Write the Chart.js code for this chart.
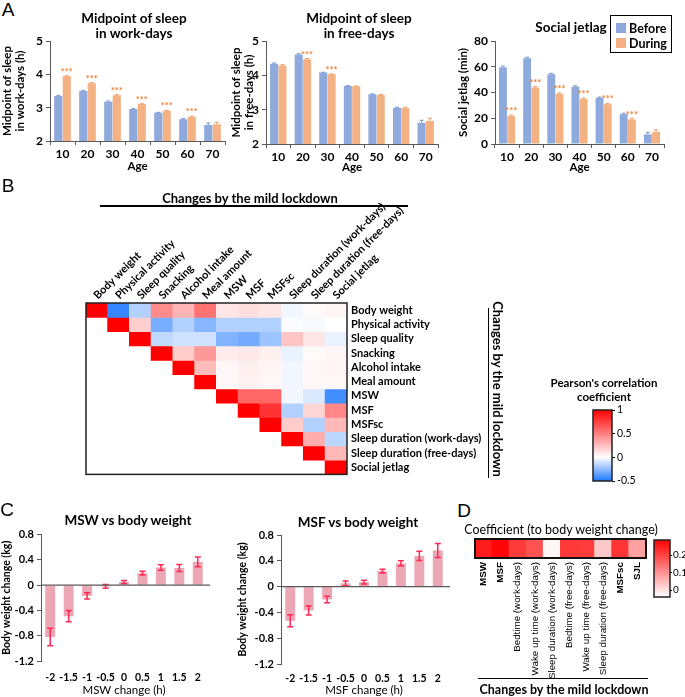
<!DOCTYPE html>
<html><head><meta charset="utf-8">
<script src="https://cdn.jsdelivr.net/npm/chart.js@4.4.1/dist/chart.umd.min.js"></script>
<style>
html,body{margin:0;padding:0;background:#fff;}
body{width:685px;height:697px;position:relative;overflow:hidden;font-family:Lato,"Open Sans",sans-serif;color:#000;}
canvas{position:absolute;}
.t{position:absolute;white-space:nowrap;transform:translate(-50%,-50%);line-height:1.2;text-align:center;}
.ln{position:absolute;background:#000;}
.lg{position:absolute;border:1px solid #000;background:#fff;box-sizing:border-box;}
.sw{position:absolute;width:10px;height:10px;}
</style></head><body>
<script>
// ================= DATA =================
// Panel A
const ages = ['10','20','30','40','50','60','70'];
const seriesNames = ['Before','During'];
const sleepTicks = [2,3,4,5];
const sjlTicks = [0,20,40,60,80];
const mswBefore = [3.35,3.50,3.18,2.96,2.85,2.65,2.48];
const mswDuring = [3.94,3.73,3.37,3.11,2.91,2.72,2.50];
const mswBeforeErr = [0.02,0.02,0.02,0.01,0.01,0.02,0.06];
const mswDuringErr = [0.02,0.02,0.02,0.01,0.01,0.02,0.06];
const mswSig = [true,true,true,true,true,true,false];
const msfBefore = [4.34,4.61,4.08,3.69,3.45,3.05,2.62];
const msfDuring = [4.29,4.47,4.03,3.68,3.43,3.05,2.67];
const msfBeforeErr = [0.02,0.02,0.01,0.01,0.01,0.02,0.07];
const msfDuringErr = [0.02,0.02,0.01,0.01,0.01,0.02,0.08];
const msfSig = [false,true,true,false,false,false,false];
const sjlBefore = [59.6,66.6,54.2,44.6,35.9,23.2,7.5];
const sjlDuring = [21.7,43.9,39.0,35.1,31.0,19.1,9.5];
const sjlBeforeErr = [1.0,0.8,0.7,0.6,0.6,0.7,1.5];
const sjlDuringErr = [0.8,0.7,0.7,0.6,0.6,0.7,1.5];
const sjlSig = [true,true,true,true,true,true,false];

// Panel B
const corrLabels = ['Body weight','Physical activity','Sleep quality','Snacking','Alcohol intake','Meal amount','MSW','MSF','MSFsc','Sleep duration (work-days)','Sleep duration (free-days)','Social jetlag'];
const corrMatrix = [
  [1,-0.45,-0.17,0.45,0.29,0.55,0.10,0.13,0.10,-0.03,0.02,0.04],
  [null,1,0.19,-0.30,-0.17,-0.27,-0.17,-0.17,-0.17,-0.01,-0.02,0.00],
  [null,null,1,-0.14,-0.11,-0.11,-0.28,-0.31,-0.22,0.23,0.10,-0.05],
  [null,null,null,1,0.20,0.40,0.07,0.09,0.06,-0.05,0.02,0.04],
  [null,null,null,null,1,0.27,0.03,0.06,0.04,-0.03,0.03,0.04],
  [null,null,null,null,null,1,0.03,0.05,0.03,-0.03,0.03,0.03],
  [null,null,null,null,null,null,1,0.60,0.60,-0.03,-0.08,-0.42],
  [null,null,null,null,null,null,null,1,0.80,-0.17,0.16,0.47],
  [null,null,null,null,null,null,null,null,1,0.20,-0.17,0.28],
  [null,null,null,null,null,null,null,null,null,1,0.32,-0.15],
  [null,null,null,null,null,null,null,null,null,null,1,0.28],
  [null,null,null,null,null,null,null,null,null,null,null,1]
];
const corrTicks = [1,0.5,0,-0.5];
const corrRange = [-0.5,1];

// Panel C
const changeLabels = ['-2','-1.5','-1','-0.5','0','0.5','1','1.5','2'];
const weightTicks = [0.8,0.4,0,-0.4,-0.8,-1.2];
const mswWeight = [-0.82,-0.49,-0.17,-0.02,0.05,0.19,0.28,0.27,0.37];
const mswWeightErr = [0.14,0.09,0.05,0.03,0.023,0.03,0.043,0.055,0.077];
const msfWeight = [-0.53,-0.37,-0.20,0.05,0.07,0.24,0.36,0.475,0.56];
const msfWeightErr = [0.093,0.07,0.05,0.036,0.028,0.03,0.042,0.072,0.11];

// Panel D
const coefLabels = ['MSW','MSF','Bedtime (work-days)','Wake up time (work-days)','Sleep duration (work-days)','Bedtime (free-days)','Wake up time (free-days)','Sleep duration (free-days)','MSFsc','SJL'];
const coefValues = [0.25,0.28,0.21,0.18,-0.03,0.215,0.21,0.03,0.22,0.08];
const coefTicks = [0,0.1,0.2];
const coefRange = [-0.04,0.286];

// ================= STYLE / HELPERS =================
Chart.defaults.font.family = "Lato, 'Open Sans', sans-serif";
Chart.defaults.color = '#000';
Chart.defaults.animation = false;
Chart.defaults.responsive = false;
Chart.defaults.maintainAspectRatio = false;
Chart.defaults.plugins.legend.display = false;
Chart.defaults.plugins.tooltip.enabled = false;

const BLUE = '#8EA9DB', ORANGE = '#F4B183', AXIS = '#595959';
function mix(c1, c2, t) { return 'rgb(' + c1.map((v, i) => Math.round(v + (c2[i] - v) * t)).join(',') + ')'; }
const WHITE = [255,255,255], RED = [255,0,0], BLUEEND = [30,120,255];
function corrColor(v) {
  if (v >= 0) return mix(WHITE, RED, Math.min(1, v / corrRange[1]));
  return mix(WHITE, BLUEEND, Math.min(1, v / corrRange[0]));
}
function coefColor(v) {
  const t = Math.max(0, Math.min(1, (v - coefRange[0]) / (coefRange[1] - coefRange[0])));
  return mix(WHITE, RED, t);
}
const setTicks = arr => s => { s.ticks = arr.map(v => ({value: v})); };
const plainTick = v => String(v);
const NOGRID = {display: false, drawTicks: false};

const errBarPlugin = {
  id: 'errBars',
  afterDatasetsDraw(chart, args, opts) {
    if (!opts || !opts.errs) return;
    const {ctx} = chart; const y = chart.scales.y;
    ctx.save();
    opts.errs.forEach((errArr, di) => {
      const meta = chart.getDatasetMeta(di);
      const data = chart.data.datasets[di].data;
      meta.data.forEach((bar, i) => {
        const v = data[i], e = errArr[i];
        const dir = v >= 0 ? 1 : -1;
        const y1 = y.getPixelForValue(opts.both ? v - e : v);
        const y2 = y.getPixelForValue(opts.both ? v + e : v + dir * e);
        ctx.strokeStyle = opts.colors[di]; ctx.lineWidth = opts.width;
        ctx.beginPath();
        ctx.moveTo(bar.x, y1); ctx.lineTo(bar.x, y2);
        ctx.moveTo(bar.x - opts.cap, y2); ctx.lineTo(bar.x + opts.cap, y2);
        if (opts.both) { ctx.moveTo(bar.x - opts.cap, y1); ctx.lineTo(bar.x + opts.cap, y1); }
        ctx.stroke();
      });
    });
    ctx.restore();
  }
};
const starPlugin = {
  id: 'stars',
  afterDatasetsDraw(chart, args, opts) {
    if (!opts || !opts.sig) return;
    const {ctx} = chart; const y = chart.scales.y;
    const meta = chart.getDatasetMeta(opts.dataset);
    const data = chart.data.datasets[opts.dataset].data;
    ctx.save();
    ctx.fillStyle = opts.color; ctx.font = 'bold 9.5px Lato, sans-serif';
    ctx.textAlign = 'center'; ctx.textBaseline = 'alphabetic';
    meta.data.forEach((bar, i) => {
      if (!opts.sig[i]) return;
      const top = y.getPixelForValue(data[i] + opts.errs[i]);
      ctx.fillText('***', bar.x, top + opts.offset);
    });
    ctx.restore();
  }
};
const framePlugin = {
  id: 'frame',
  afterDatasetsDraw(chart, args, opts) {
    if (!opts || !opts.width) return;
    const a = chart.chartArea, c = chart.ctx;
    c.save(); c.strokeStyle = opts.color; c.lineWidth = opts.width;
    c.strokeRect(a.left, a.top, a.right - a.left, a.bottom - a.top);
    c.restore();
  }
};
const zeroLinePlugin = {
  id: 'zeroLine',
  afterDatasetsDraw(chart, args, opts) {
    if (!opts || !opts.color) return;
    const a = chart.chartArea, c = chart.ctx, y = chart.scales.y.getPixelForValue(0);
    c.save(); c.strokeStyle = opts.color; c.lineWidth = opts.width;
    c.beginPath(); c.moveTo(a.left, y); c.lineTo(a.right + opts.extend, y); c.stroke();
    c.restore();
  }
};
Chart.register(errBarPlugin, starPlugin, framePlugin, zeroLinePlugin);

function mkCanvas(left, top, w, h) {
  const c = document.createElement('canvas');
  c.width = w; c.height = h;
  c.style.left = left + 'px'; c.style.top = top + 'px';
  c.style.width = w + 'px'; c.style.height = h + 'px';
  document.body.appendChild(c);
  return c;
}
function txt(s, x, y, style, rot) {
  const d = document.createElement('div');
  d.className = 't'; d.textContent = s;
  d.style.left = x + 'px'; d.style.top = y + 'px';
  d.style.cssText += style || '';
  if (rot) d.style.transform = 'translate(-50%,-50%) rotate(' + rot + 'deg)';
  document.body.appendChild(d);
  return d;
}
function line(x, y, w, h) {
  const d = document.createElement('div');
  d.className = 'ln';
  d.style.cssText = `left:${x}px;top:${y}px;width:${w}px;height:${h}px`;
  document.body.appendChild(d);
}

// ================= PANEL A =================
function ageChart(cv, before, during, bErr, dErr, sig, ticks, yTitle, L) {
  return new Chart(cv, {
    type: 'bar',
    data: { labels: ages, datasets: [
      {label: seriesNames[0], data: before, backgroundColor: BLUE},
      {label: seriesNames[1], data: during, backgroundColor: ORANGE}
    ]},
    options: {
      layout: {padding: L.pad},
      datasets: {bar: {categoryPercentage: 0.68, barPercentage: 0.96}},
      scales: {
        x: {
          grid: {offset: true, drawOnChartArea: false, tickLength: 4, color: AXIS},
          border: {color: AXIS},
          ticks: {font: {size: 12, weight: 'bold'}, padding: 2, minRotation: 0, maxRotation: 0},
          title: {display: true, text: 'Age', font: {size: 11.5, weight: 'bold'}, padding: {top: 0, bottom: L.xtb}},
          afterFit: s => { s.height = L.xh; }
        },
        y: {
          min: ticks[0], max: ticks[ticks.length - 1],
          afterBuildTicks: setTicks(ticks),
          grid: {drawOnChartArea: false, tickLength: 4, color: AXIS},
          border: {color: AXIS},
          ticks: {font: {size: 12, weight: 'bold'}, padding: 3, callback: plainTick},
          title: {display: true, text: yTitle, font: {size: 11.5, weight: 'bold'}, padding: {top: L.ytp, bottom: 0}},
          afterFit: s => { s.width = L.yw; }
        }
      },
      plugins: {
        errBars: {errs: [bErr, dErr], colors: ['#7594CF', '#EE9A62'], width: 1, cap: 2, both: false},
        stars: {sig: sig, dataset: 1, errs: dErr, color: '#ED7D31', offset: -1}
      }
    }
  });
}
ageChart(mkCanvas(0, 30, 230, 150), mswBefore, mswDuring, mswBeforeErr, mswDuringErr, mswSig, sleepTicks,
  ['Midpoint of sleep', 'in work-days (h)'], {pad: {top: 11, left: 0, right: 5, bottom: 0}, yw: 50, xh: 39, xtb: 7, ytp: 0});
ageChart(mkCanvas(225, 30, 230, 150), msfBefore, msfDuring, msfBeforeErr, msfDuringErr, msfSig, sleepTicks,
  ['Midpoint of sleep', 'in free-days (h)'], {pad: {top: 11, left: 4, right: 17, bottom: 0}, yw: 37, xh: 36, xtb: 6, ytp: 0});
ageChart(mkCanvas(455, 30, 230, 150), sjlBefore, sjlDuring, sjlBeforeErr, sjlDuringErr, sjlSig, sjlTicks,
  'Social jetlag (min)', {pad: {top: 11, left: 0, right: 21, bottom: 0}, yw: 40, xh: 36, xtb: 6, ytp: 1});

// ================= PANEL B =================
new Chart(mkCanvas(80, 195, 420, 290), {
  type: 'bar',
  data: {
    labels: corrLabels,
    datasets: corrMatrix.map((row, i) => ({
      data: row.map(v => v === null ? null : [i - 0.5, i + 0.5]),
      backgroundColor: row.map(v => v === null ? 'rgba(0,0,0,0)' : corrColor(v)),
      borderWidth: 0, inflateAmount: 0.5, grouped: false, barPercentage: 1, categoryPercentage: 1
    }))
  },
  options: {
    layout: {padding: {left: 6, top: 0, right: 0, bottom: 10}},
    scales: {
      x: {
        position: 'top',
        grid: NOGRID, border: {display: false},
        ticks: {minRotation: 45, maxRotation: 45, autoSkip: false, padding: 1, labelOffset: 8, font: {size: 11, weight: 'bold'}},
        afterFit: s => { s.height = 108; }
      },
      y: {
        position: 'right', min: -0.5, max: corrLabels.length - 0.5, reverse: true,
        afterBuildTicks: setTicks(corrLabels.map((_, i) => i)),
        ticks: {callback: v => corrLabels[v], autoSkip: false, padding: 4, font: {size: 11, weight: 'bold'}},
        grid: NOGRID, border: {display: false},
        afterFit: s => { s.width = 153; }
      }
    },
    plugins: {frame: {width: 1.5, color: '#222'}}
  }
});

// colour bar B
new Chart(mkCanvas(585, 400, 60, 90), {
  type: 'bar',
  data: {labels: [''], datasets: [{
    data: [corrRange],
    backgroundColor: (ctx) => {
      const ch = ctx.chart; if (!ch.chartArea) return '#fff';
      const y = ch.scales.y;
      const g = ch.ctx.createLinearGradient(0, y.getPixelForValue(corrRange[0]), 0, y.getPixelForValue(corrRange[1]));
      const span = corrRange[1] - corrRange[0];
      [corrRange[0], 0, corrRange[1] / 2, corrRange[1]].forEach(v => g.addColorStop((v - corrRange[0]) / span, corrColor(v)));
      return g;
    },
    borderWidth: 0, barPercentage: 1, categoryPercentage: 1
  }]},
  options: {
    layout: {padding: {left: 8, top: 10, right: 0, bottom: 9}},
    scales: {
      x: {display: false},
      y: {
        position: 'right', min: corrRange[0], max: corrRange[1],
        afterBuildTicks: setTicks(corrTicks),
        ticks: {padding: 2, font: {size: 10.5}, callback: plainTick, autoSkip: false},
        grid: {drawOnChartArea: false, tickLength: 3, color: '#000'},
        border: {display: false},
        afterFit: s => { s.width = 33; }
      }
    },
    plugins: {frame: {width: 1.5, color: '#222'}}
  }
});

// ================= PANEL C =================
function weightChart(cv, vals, errs, xTitle, L) {
  return new Chart(cv, {
    type: 'bar',
    data: {labels: changeLabels, datasets: [{data: vals, backgroundColor: '#EBA8B4', barPercentage: 0.54, categoryPercentage: 1}]},
    options: {
      layout: {padding: L.pad},
      scales: {
        x: {
          grid: NOGRID, border: {display: false},
          ticks: {font: {size: 10.5, weight: 'bold'}, padding: L.xtp, minRotation: 0, maxRotation: 0, autoSkip: false},
          title: {display: true, text: xTitle, font: {size: 11.5}, padding: {top: 0, bottom: 0}},
          afterFit: s => { s.height = L.xh; }
        },
        y: {
          min: weightTicks[weightTicks.length - 1], max: weightTicks[0],
          afterBuildTicks: setTicks(weightTicks),
          grid: {drawOnChartArea: false, tickLength: 4, color: AXIS},
          border: {color: AXIS},
          ticks: {font: {size: 11, weight: 'bold'}, padding: 3, callback: plainTick, autoSkip: false},
          title: {display: true, text: 'Body weight change (kg)', font: {size: 10.5, weight: 'bold'}, padding: {top: 0, bottom: 0}},
          afterFit: s => { s.width = L.yw; }
        }
      },
      plugins: {
        errBars: {errs: [errs], colors: ['#FF2A55'], width: 1.5, cap: 3, both: true},
        zeroLine: {color: AXIS, width: 1.3, extend: 3}
      }
    }
  });
}
weightChart(mkCanvas(0, 525, 230, 172), mswWeight, mswWeightErr, 'MSW change (h)',
  {pad: {top: 8, left: 0, right: 23, bottom: 0}, yw: 41, xh: 36, xtp: 10});
weightChart(mkCanvas(230, 525, 230, 172), msfWeight, msfWeightErr, 'MSF change (h)',
  {pad: {top: 10, left: 6, right: 13, bottom: 0}, yw: 45, xh: 33, xtp: 8});

// ================= PANEL D =================
new Chart(mkCanvas(460, 530, 200, 167), {
  type: 'bar',
  data: {labels: coefLabels, datasets: [{
    data: coefValues.map(() => [0, 1]),
    backgroundColor: coefValues.map(coefColor),
    borderWidth: 0, inflateAmount: 0.5, barPercentage: 1, categoryPercentage: 1
  }]},
  options: {
    layout: {padding: {left: 15, top: 9, right: 14, bottom: 0}},
    scales: {
      x: {
        grid: NOGRID, border: {display: false},
        ticks: {minRotation: 90, maxRotation: 90, autoSkip: false, padding: 4,
          font: (ctx) => ({family: "'Liberation Sans', Arial, sans-serif", size: 9.8, weight: (ctx.index < 2 || ctx.index > 7) ? 'bold' : 'normal'})},
        afterFit: s => { s.height = 139; }
      },
      y: {display: false, min: 0, max: 1}
    },
    plugins: {frame: {width: 2, color: '#111'}}
  }
});
// colour bar D
new Chart(mkCanvas(645, 530, 40, 75), {
  type: 'bar',
  data: {labels: [''], datasets: [{
    data: [coefRange],
    backgroundColor: (ctx) => {
      const ch = ctx.chart; if (!ch.chartArea) return '#fff';
      const y = ch.scales.y;
      const g = ch.ctx.createLinearGradient(0, y.getPixelForValue(coefRange[0]), 0, y.getPixelForValue(coefRange[1]));
      g.addColorStop(0, coefColor(coefRange[0])); g.addColorStop(1, coefColor(coefRange[1]));
      return g;
    },
    borderWidth: 0, barPercentage: 1, categoryPercentage: 1
  }]},
  options: {
    layout: {padding: {left: 9, top: 10, right: 0, bottom: 8}},
    scales: {
      x: {display: false},
      y: {
        position: 'right', min: coefRange[0], max: coefRange[1],
        afterBuildTicks: setTicks(coefTicks),
        ticks: {padding: 1, font: {size: 10}, callback: plainTick, autoSkip: false},
        grid: {drawOnChartArea: false, tickLength: 2, color: '#000'},
        border: {display: false},
        afterFit: s => { s.width = 15; }
      }
    },
    plugins: {frame: {width: 1.5, color: '#222'}}
  }
});

// ================= TEXT OVERLAYS =================
const letter = 'font-size:19px;font-family:"Liberation Sans",Arial,sans-serif;';
txt('A', 8, 10, letter);
txt('B', 8, 186, letter);
txt('C', 7, 510, letter);
txt('D', 464, 511, letter);
const ttl = 'font-size:13.5px;font-weight:bold;line-height:15px;';
const dA1 = txt('', 134, 26, ttl); dA1.innerHTML = 'Midpoint of sleep<br>in work-days';
const dA2 = txt('', 359, 26, ttl); dA2.innerHTML = 'Midpoint of sleep<br>in free-days';
txt('Social jetlag', 571, 27, ttl);
txt('MSW vs body weight', 128, 520, ttl);
txt('MSF vs body weight', 358, 522, ttl);
const lg = document.createElement('div'); lg.className = 'lg';
lg.style.cssText = 'left:610px;top:15px;width:62px;height:38px;';
document.body.appendChild(lg);
[[BLUE, 28], [ORANGE, 43]].forEach((c, i) => {
  const s = document.createElement('div'); s.className = 'sw';
  s.style.cssText = `left:616px;top:${c[1] - 5}px;background:${c[0]};`;
  document.body.appendChild(s);
  const d = txt(seriesNames[i], 0, c[1], 'font-size:12.5px;font-weight:bold;transform:translate(0,-50%);');
  d.style.left = '629px';
});
txt('Changes by the mild lockdown', 250, 199, 'font-size:13px;font-weight:bold;');
line(100, 205, 308, 1.5);
line(487.5, 308, 1.5, 170);
txt('Changes by the mild lockdown', 497, 389, 'font-size:13px;font-weight:bold;', 90);
const pc = txt('', 604, 390, 'font-size:11.5px;font-weight:bold;line-height:14px;'); pc.innerHTML = "Pearson's correlation<br>coefficient";
txt('Coefficient (to body weight change)', 561, 529, 'font-size:12.5px;');
line(478, 677.5, 170, 1.5);
txt('Changes by the mild lockdown', 564, 689, 'font-size:12.5px;font-weight:bold;');
</script>
</body></html>
